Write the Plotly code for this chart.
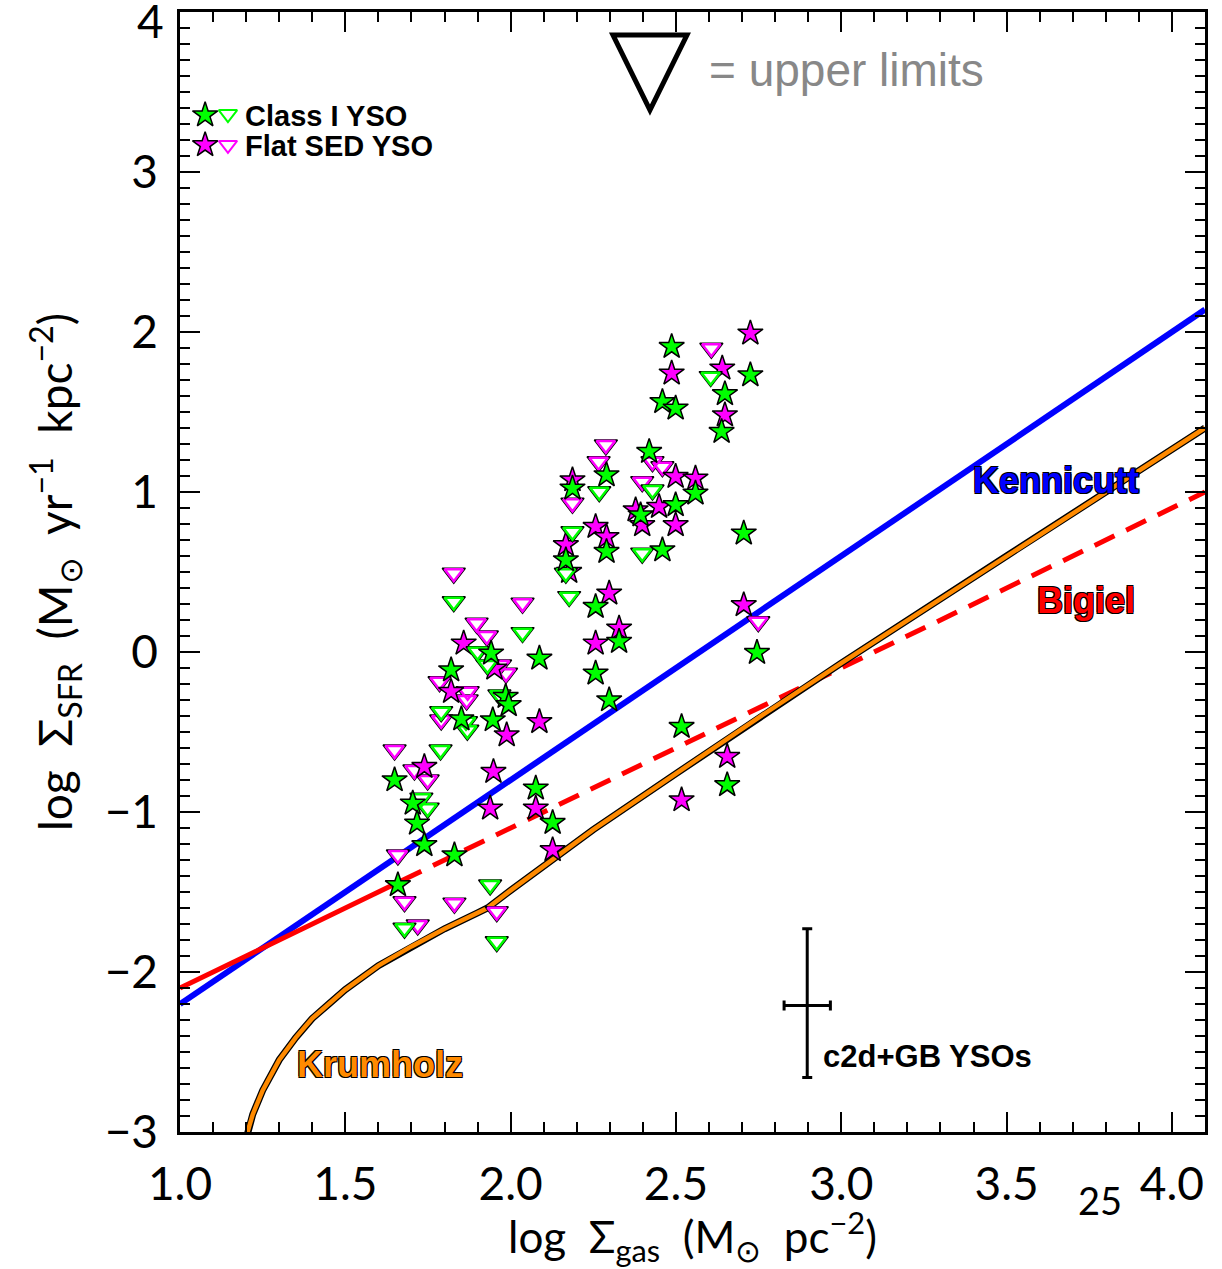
import plotly.graph_objects as go

# ---------------- data ----------------
# Class I YSO detections (green stars)
class1_x = [2.487, 2.459, 2.499, 2.648, 2.638, 2.725, 2.705, 2.745, 2.517, 2.655,
            2.419, 2.559, 2.499, 2.393, 2.459, 2.290, 2.187, 2.290, 2.167, 2.257,
            2.328, 2.257, 2.298, 2.087, 1.941, 1.820, 1.985, 1.994, 1.946, 1.851,
            2.076, 2.127, 1.649, 1.704, 1.717, 1.739, 1.830, 1.659]
class1_y = [1.908, 1.564, 1.523, 1.613, 1.377, 1.731, 0.742, -0.004, -0.467, -0.831,
            1.252, 0.992, 0.919, 0.856, 0.637, 1.106, 1.023, 0.627, 0.575, 0.283,
            0.065, -0.133, -0.300, -0.040, -0.008, -0.113, -0.279, -0.331, -0.425, -0.419,
            -0.852, -1.067, -0.800, -0.946, -1.071, -1.206, -1.269, -1.456]

# Class I YSO upper limits (green open triangles)
class1_ul_x = [2.605, 2.398, 2.429, 2.268, 2.187, 2.177, 2.167, 1.828, 2.036, 1.900,
               1.930, 1.966, 1.790, 1.865, 1.869, 1.788, 1.730, 1.749, 1.679, 1.938,
               1.958]
class1_ul_y = [1.721, 0.617, 1.013, 1.002, 0.752, 0.346, 0.492, 0.314, 0.121, 0.002,
               -0.081, -0.269, -0.373, -0.436, -0.489, -0.613, -0.914, -0.977, -1.727, -1.456,
               -1.811]

# Flat SED YSO detections (magenta stars)
flat_x = [2.487, 2.640, 2.648, 2.725, 2.705, 2.655, 2.517, 2.499, 2.559, 2.449,
          2.499, 2.378, 2.398, 2.187, 2.257, 2.290, 2.167, 2.177, 2.298, 2.328,
          2.257, 2.087, 1.858, 1.951, 1.820, 1.988, 1.739, 1.948, 1.938, 2.076,
          2.127]
flat_y = [1.742, 1.773, 1.481, 1.992, 0.294, -0.654, -0.925, 1.096, 1.086, 0.908,
          0.794, 0.887, 0.794, 1.075, 0.783, 0.720, 0.669, 0.502, 0.367, 0.148,
          0.054, -0.436, 0.054, -0.102, -0.248, -0.519, -0.717, -0.748, -0.977, -0.977,
          -1.237]

# Flat SED YSO upper limits (magenta open triangles)
flat_ul_x = [2.607, 2.749, 2.288, 2.266, 2.187, 2.429, 2.459, 2.398, 1.828, 2.036,
             1.897, 1.928, 1.986, 1.968, 1.785, 1.870, 1.867, 1.790, 1.649, 1.709,
             1.749, 1.659, 1.679, 1.719, 1.830, 1.958]
flat_ul_y = [1.898, 0.189, 1.294, 1.189, 0.929, 1.189, 1.158, 1.064, 0.492, 0.304,
             0.179, 0.100, -0.133, -0.081, -0.186, -0.248, -0.300, -0.425, -0.613, -0.738,
             -0.800, -1.269, -1.561, -1.706, -1.571, -1.623]

# relations
kennicutt_x = [1.0, 4.1]
kennicutt_y = [-2.20, 2.14]
bigiel_solid_x = [1.0, 1.67]
bigiel_solid_y = [-2.10, -1.43]
bigiel_dash_x = [1.67, 4.1]
bigiel_dash_y = [-1.43, 1.00]
krumholz_x = [1.19, 1.20, 1.22, 1.25, 1.30, 1.35, 1.40, 1.45, 1.50, 1.60,
              1.70, 1.80, 1.90, 1.93, 2.00, 2.25, 2.50, 2.75, 3.00, 3.50, 4.10]
krumholz_y = [-3.12, -3.03, -2.89, -2.74, -2.55, -2.41, -2.29, -2.20, -2.11, -1.96,
              -1.84, -1.73, -1.63, -1.60, -1.49, -1.11, -0.76, -0.41, -0.07, 0.60, 1.40]

# representative error bar
errbar_x = [2.897]
errbar_y = [-2.21]
errbar_dx = [0.07]
errbar_dy_plus = [0.48]
errbar_dy_minus = [0.45]

# tick labels (top "4" drawn separately, slightly lowered as in the original)
x_tickvals = [1.0, 1.5, 2.0, 2.5, 3.0, 3.5, 4.0]
x_ticktext = ["1.0", "1.5", "2.0", "2.5", "3.0", "3.5", "4.0"]
y_tickvals = [-3, -2, -1, 0, 1, 2, 3, 4]
y_ticktext = ["−3", "−2", "−1", "0", "1", "2", "3", ""]
y_top_label = "4"

# legend glyph positions (decoration)
leg_star_x = [1.076, 1.076]
leg_star_y = [3.356, 3.169]
leg_tri_x = [1.145, 1.145]
leg_tri_y = [3.362, 3.169]

GREEN = "#00FF00"
MAGENTA = "#FF00FF"
ORANGE = "#FF8A00"
STAR = 19
TRI = 20

fig = go.Figure()

# lines
fig.add_trace(go.Scatter(x=kennicutt_x, y=kennicutt_y, mode="lines",
                         line=dict(color="#0000FF", width=6), hoverinfo="skip"))
fig.add_trace(go.Scatter(x=bigiel_solid_x, y=bigiel_solid_y, mode="lines",
                         line=dict(color="#FF0000", width=5), hoverinfo="skip"))
fig.add_trace(go.Scatter(x=bigiel_dash_x, y=bigiel_dash_y, mode="lines",
                         line=dict(color="#FF0000", width=5, dash="22px,13px"), hoverinfo="skip"))
fig.add_trace(go.Scatter(x=krumholz_x, y=krumholz_y, mode="lines",
                         line=dict(color="black", width=7), hoverinfo="skip"))
fig.add_trace(go.Scatter(x=krumholz_x, y=krumholz_y, mode="lines",
                         line=dict(color=ORANGE, width=4.5), hoverinfo="skip"))


def add_tri(xs, ys, color):
    fig.add_trace(go.Scatter(x=xs, y=ys, mode="markers",
                             marker=dict(symbol="triangle-down", size=TRI, color="white",
                                         line=dict(color="black", width=1.5))))
    fig.add_trace(go.Scatter(x=xs, y=ys, mode="markers",
                             marker=dict(symbol="triangle-down-open", size=TRI - 4, color=color,
                                         line=dict(color=color, width=2.5))))


def add_star(xs, ys, color):
    fig.add_trace(go.Scatter(x=xs, y=ys, mode="markers",
                             marker=dict(symbol="star", size=STAR, color=color,
                                         line=dict(color="black", width=1.5))))


add_tri(flat_ul_x, flat_ul_y, MAGENTA)
add_star(flat_x, flat_y, MAGENTA)
add_tri(class1_ul_x, class1_ul_y, GREEN)
add_star(class1_x, class1_y, GREEN)

# error bar
fig.add_trace(go.Scatter(x=errbar_x, y=errbar_y, mode="markers",
                         marker=dict(size=1, color="black"),
                         error_x=dict(type="data", array=errbar_dx, color="black", thickness=3, width=5),
                         error_y=dict(type="data", array=errbar_dy_plus, arrayminus=errbar_dy_minus,
                                      color="black", thickness=3, width=5)))

# legend glyphs
fig.add_trace(go.Scatter(x=leg_star_x, y=leg_star_y, mode="markers",
                         marker=dict(symbol="star", size=STAR, color=[GREEN, MAGENTA],
                                     line=dict(color="black", width=1.5))))
fig.add_trace(go.Scatter(x=leg_tri_x, y=leg_tri_y, mode="markers",
                         marker=dict(symbol="triangle-down-open", size=16, color=[GREEN, MAGENTA],
                                     line=dict(color=[GREEN, MAGENTA], width=2))))

outline = "1px 1px 0 #000, -1px -1px 0 #000, 1px -1px 0 #000, -1px 1px 0 #000"
bold_font = "Liberation Sans"
annots = [
    dict(x=3.650, y=1.069, text="Kennicutt", showarrow=False,
         font=dict(family=bold_font, size=36, color="#0000FF", weight="bold", shadow=outline)),
    dict(x=3.741, y=0.319, text="Bigiel", showarrow=False,
         font=dict(family=bold_font, size=36, color="#FF0000", weight="bold", shadow=outline)),
    dict(x=1.604, y=-2.575, text="Krumholz", showarrow=False,
         font=dict(family=bold_font, size=36, color=ORANGE, weight="bold", shadow=outline)),
    dict(x=2.938, y=-2.53, text="c2d+GB YSOs", showarrow=False, xanchor="left",
         font=dict(family=bold_font, size=31, color="black", weight="bold")),
    dict(x=1.190, y=3.350, text="Class I YSO", showarrow=False, xanchor="left",
         font=dict(family=bold_font, size=29, color="black", weight="bold")),
    dict(x=1.190, y=3.160, text="Flat SED YSO", showarrow=False, xanchor="left",
         font=dict(family=bold_font, size=29, color="black", weight="bold")),
    dict(x=2.594, y=3.640, text="= upper limits", showarrow=False, xanchor="left",
         font=dict(family="Liberation Sans", size=46, color="#888888")),
    dict(x=0.8976, y=-0.0607, xref="paper", yref="paper", text="25", showarrow=False,
         xanchor="center", yanchor="middle",
         font=dict(family="Lato", size=38, color="black")),
    dict(x=-0.0135, y=0.9929, xref="paper", yref="paper", text=y_top_label, showarrow=False,
         xanchor="right", yanchor="middle", height=38, valign="middle",
         font=dict(family="Lato", size=46, color="black")),
]

fig.update_layout(
    width=1222, height=1269,
    margin=dict(l=180, r=17, t=12, b=137),
    paper_bgcolor="white", plot_bgcolor="white",
    showlegend=False,
    font=dict(family="Lato", size=46, color="black"),
    annotations=annots,
    shapes=[dict(type="path", xref="paper", yref="paper",
                 xsizemode="pixel", ysizemode="pixel",
                 xanchor=0.4585, yanchor=0.9464,
                 path="M -37,37 L 37,37 L 0,-38 Z",
                 line=dict(color="black", width=5), fillcolor="rgba(0,0,0,0)")],
)

axis_common = dict(showline=True, linecolor="black", linewidth=2.5, mirror="ticks",
                   ticks="inside", ticklen=20, tickwidth=2, tickcolor="black",
                   showgrid=False, zeroline=False, ticklabeloverflow="allow",
                   automargin=False,
                   tickfont=dict(family="Lato", size=46, color="black"))

fig.update_xaxes(range=[1.0, 4.1], tickmode="array", tickvals=x_tickvals, ticktext=x_ticktext,
                 minor=dict(ticks="inside", ticklen=10, tickwidth=2, tickcolor="black",
                            tick0=1.0, dtick=0.1, showgrid=False),
                 title=dict(text="log  Σ<sub>gas</sub>  (M<sub>⊙</sub>  pc<sup>−2</sup>)",
                            font=dict(family="Lato", size=44), standoff=14),
                 ticklabelstandoff=10,
                 **axis_common)
fig.update_yaxes(range=[-3.0, 4.0], tickmode="array", tickvals=y_tickvals, ticktext=y_ticktext,
                 minor=dict(ticks="inside", ticklen=10, tickwidth=2, tickcolor="black",
                            tick0=0, dtick=0.1, showgrid=False),
                 title=dict(text="log  Σ<sub>SFR</sub>  (M<sub>⊙</sub>  yr<sup>−1</sup>  kpc<sup>−2</sup>)",
                            font=dict(family="Lato", size=46), standoff=18),
                 ticklabelstandoff=10,
                 **axis_common)

fig.write_html("out.html")
